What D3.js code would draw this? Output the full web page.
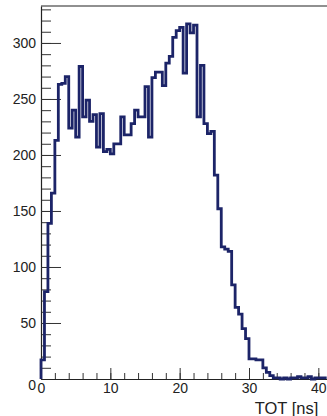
<!DOCTYPE html>
<html>
<head>
<meta charset="utf-8">
<script src="https://cdn.jsdelivr.net/npm/d3@7"></script>
<style>
  body { margin: 0; background: #fff; }
  text { font-family: "Liberation Sans", Arial, sans-serif; }
</style>
</head>
<body>
<div id="chart"></div>
<script>
// Histogram of TOT, bins of 0.5 ns starting at 0
let binWidth = 0.5;
let counts = [
  17, 78, 139, 166, 213, 263, 264, 270, 224, 240,
  216, 279, 234, 249, 230, 236, 207, 237, 203, 205,
  201, 210, 210, 234, 218, 218, 228, 240, 234, 234,
  261, 216, 269, 274, 274, 262, 282, 288, 305, 311,
  314, 273, 317, 309, 316, 234, 280, 228, 219, 221,
  182, 152, 118, 116, 114, 84, 64, 58, 45, 36,
  18, 18, 17, 17, 10, 6, 3, 1, 1, 0,
  1, 0, 1, 1, 2, 1, 1, 2, 0, 1,
  1, 1
];
let xTicks = [0, 10, 20, 30, 40];
let yTicks = [0, 50, 100, 150, 200, 250, 300];
let xTitle = 'TOT [ns]';

let width = 327,
    height = 416;

let margin = {top: 6, bottom: 37, left: 41, right: 0};

let svg = d3.select('#chart')
            .append('svg')
            .attr('width', width)
            .attr('height', height);

// scales
let xScale = d3.scaleLinear()
              .domain([0, 41.25])
              .range([margin.left, width - margin.right]);

let yScale = d3.scaleLinear()
              .domain([0, 333])
              .range([height - margin.bottom, margin.top]);

// minor ticks
svg.append('g')
  .attr('transform', `translate(${margin.left},0)`)
  .call(d3.axisLeft(yScale).tickValues(d3.range(0, 334, 10)).tickSizeInner(-10).tickSizeOuter(0).tickFormat(''))
  .call(g => g.select('.domain').remove())
  .selectAll('line').attr('stroke', '#333');

svg.append('g')
  .attr('transform', `translate(0,${height - margin.bottom})`)
  .call(d3.axisBottom(xScale).tickValues(d3.range(0, 41.3, 2)).tickSizeInner(-6).tickSizeOuter(0).tickFormat(''))
  .call(g => g.select('.domain').remove())
  .selectAll('line').attr('stroke', '#333');

// major ticks + labels
let yAxis = svg.append('g')
  .attr('transform', `translate(${margin.left},0)`)
  .call(d3.axisLeft(yScale).tickValues(yTicks).tickSizeInner(-20).tickSizeOuter(0).tickPadding(5));
yAxis.selectAll('line').attr('stroke', '#333');
yAxis.select('.domain').attr('stroke', '#222').attr('stroke-width', 1.2);
yAxis.selectAll('text')
  .style('font-size', '14px')
  .style('fill', '#222')
  .attr('dy', d => d === 0 ? '0.75em' : '0.35em');

let xAxis = svg.append('g')
  .attr('transform', `translate(0,${height - margin.bottom})`)
  .call(d3.axisBottom(xScale).tickValues(xTicks).tickSizeInner(-11).tickSizeOuter(0).tickPadding(4));
xAxis.selectAll('line').attr('stroke', '#333');
xAxis.select('.domain').attr('stroke', '#222').attr('stroke-width', 1.2);
xAxis.selectAll('text')
  .style('font-size', '14px')
  .style('fill', '#222');

// top frame line
svg.append('line')
  .attr('x1', xScale(0))
  .attr('x2', width)
  .attr('y1', yScale(333))
  .attr('y2', yScale(333))
  .attr('stroke', '#222')
  .attr('stroke-width', 1.2);

// axis title
svg.append('text')
  .attr('x', xScale(40))
  .attr('y', height - 2)
  .text(xTitle)
  .style('text-anchor', 'end')
  .style('font-size', '16.5px')
  .style('fill', '#222');

// histogram outline
let pts = [[0, 0]];
counts.forEach((c, i) => {
  pts.push([i * binWidth, c]);
  pts.push([(i + 1) * binWidth, c]);
});
pts.push([counts.length * binWidth, 0]);

let line = d3.line()
  .x(d => xScale(d[0]))
  .y(d => yScale(d[1]));

svg.append('path')
  .attr('d', line(pts))
  .attr('fill', 'none')
  .attr('stroke', '#1c2468')
  .attr('stroke-width', 2.8)
  .attr('stroke-linejoin', 'miter');
</script>
</body>
</html>
